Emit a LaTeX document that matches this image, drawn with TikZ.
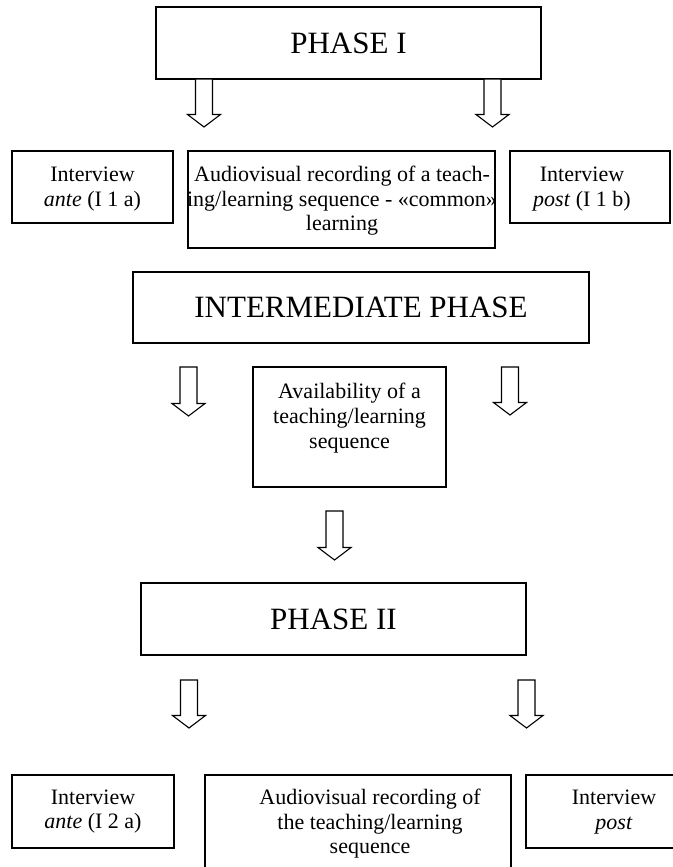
\documentclass[tikz,border=0pt]{standalone}
\usepackage{fontspec}
\setmainfont{Liberation Serif}
\usetikzlibrary{calc}
\tikzset{
  frame/.style={draw, line width=1.1pt, inner sep=0pt, outer sep=0pt, anchor=north west},
  bigtext/.style={font=\fontsize{31}{36}\selectfont},
  smalltext/.style={font=\fontsize{22}{24.5}\selectfont, align=center, inner sep=0pt},
  avtext/.style={font=\fontsize{22}{25}\selectfont, align=center, inner sep=0pt},
  blockarrow/.style={line width=1.1pt, fill=white, to path={
    let \p1=(\tikztostart), \p2=(\tikztotarget) in
    (\x1-8.5pt,\y1) -- (\x1-8.5pt,\y2+12.5pt) -- (\x1-16.5pt,\y2+12.5pt) -- (\x2,\y2)
    -- (\x1+16.5pt,\y2+12.5pt) -- (\x1+8.5pt,\y2+12.5pt) -- (\x1+8.5pt,\y1) -- cycle}},
}
\begin{document}
\begin{tikzpicture}[x=1pt,y=1pt]
\useasboundingbox (0,0) rectangle (672,-867);
% boxes
\node[frame, minimum width=385pt, minimum height=72pt, bigtext] (p1) at (156,-7) {PHASE I};
\node[frame, minimum width=161pt, minimum height=72pt] (l1) at (12,-151) {};
\node[smalltext] (l1t) at (92.5,-189) {Interview\\\textit{ante} (I 1 a)};
\node[frame, minimum width=307pt, minimum height=97pt] (m1) at (188,-151) {};
\node[smalltext] (m1t) at (342,-201) {Audiovisual recording of a teach-\\ing/learning sequence - «common»\\learning};
\node[frame, minimum width=160pt, minimum height=72pt] (r1) at (510,-151) {};
\node[smalltext] (r1t) at (582,-189) {Interview\\\textit{post} (I 1 b)};
\node[frame, minimum width=456pt, minimum height=71pt, bigtext] (int) at (133,-272) {INTERMEDIATE PHASE};
\node[frame, minimum width=193pt, minimum height=120pt] (av) at (253,-367) {};
\node[avtext] (avt) at (349.5,-418) {Availability of a\\teaching/learning\\sequence};
\node[frame, minimum width=385pt, minimum height=72pt, bigtext] (p2) at (141,-583) {PHASE II};
\node[frame, minimum width=162pt, minimum height=73pt, smalltext] (lb) at (12,-775) {Interview\\\textit{ante} (I 2 a)};
\node[frame, minimum width=306pt, minimum height=125pt] (mb) at (205,-775) {};
\node[smalltext] (mbt) at (370,-824) {Audiovisual recording of\\the teaching/learning\\sequence};
\node[frame, minimum width=180pt, minimum height=73pt] (rb) at (526,-775) {};
\node[smalltext] (rbt) at (614,-812) {Interview\\\textit{post}};
% arrow ends
\coordinate (a1s) at (204,-79);   \coordinate (a1e) at (204,-127);
\coordinate (a2s) at (492.5,-79); \coordinate (a2e) at (492.5,-127);
\coordinate (a3s) at (188.5,-367); \coordinate (a3e) at (188.5,-416);
\coordinate (a4s) at (510,-367);  \coordinate (a4e) at (510,-415);
\coordinate (a5s) at (334.5,-511); \coordinate (a5e) at (334.5,-560);
\coordinate (a6s) at (189,-680);  \coordinate (a6e) at (189,-728);
\coordinate (a7s) at (526.5,-680); \coordinate (a7e) at (526.5,-728);
\draw[blockarrow] (a1s) to (a1e);
\draw[blockarrow] (a2s) to (a2e);
\draw[blockarrow] (a3s) to (a3e);
\draw[blockarrow] (a4s) to (a4e);
\draw[blockarrow] (a5s) to (a5e);
\draw[blockarrow] (a6s) to (a6e);
\draw[blockarrow] (a7s) to (a7e);
\end{tikzpicture}
\end{document}
